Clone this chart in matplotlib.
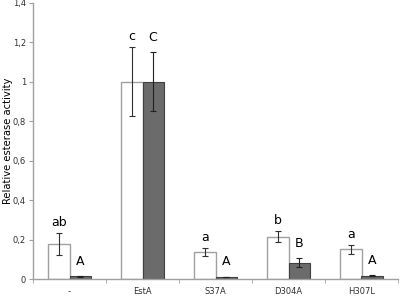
import numpy as np
import matplotlib
matplotlib.use("Agg")
import matplotlib.pyplot as plt

categories = ["-", "EstA", "S37A", "D304A", "H307L"]
white_vals = [0.178, 1.0, 0.135, 0.215, 0.151]
white_err = [0.055, 0.176, 0.02, 0.026, 0.023]
dark_vals = [0.013, 1.0, 0.01, 0.083, 0.017]
dark_err = [0.002, 0.15, 0.002, 0.021, 0.003]
white_letters = ["ab", "c", "a", "b", "a"]
dark_letters = ["A", "C", "A", "B", "A"]

fig = plt.figure(figsize=(4, 2.96), dpi=100)
ax = fig.add_axes([0.0825, 0.0574, 0.9125, 0.933])

x = np.arange(len(categories))
w = 0.29
ax.bar(x - w / 2, white_vals, w, color="white", edgecolor="#a0a0a0", linewidth=1.0,
       yerr=white_err, error_kw=dict(ecolor="#303030", elinewidth=0.8, capsize=2, capthick=0.8))
ax.bar(x + w / 2, dark_vals, w, color="#6b6b6b", edgecolor="#404040", linewidth=0.8,
       yerr=dark_err, error_kw=dict(ecolor="#202020", elinewidth=0.8, capsize=2, capthick=0.8))

for i in range(len(categories)):
    ax.annotate(white_letters[i], (x[i] - w / 2, white_vals[i] + white_err[i]),
                xytext=(0, 3), textcoords="offset points", ha="center", va="bottom",
                fontsize=9, color="black")
    ax.annotate(dark_letters[i], (x[i] + w / 2, dark_vals[i] + dark_err[i]),
                xytext=(0, 6), textcoords="offset points", ha="center", va="bottom",
                fontsize=9, color="black")

ax.set_xlim(-0.5, len(categories) - 0.5)
ax.set_ylim(0, 1.4)
yt = np.arange(0, 1.41, 0.2)
ax.set_yticks(yt)
ax.set_yticklabels(["0", "0,2", "0,4", "0,6", "0,8", "1", "1,2", "1,4"])
ax.set_xticks(x)
ax.set_xticklabels(categories)
ax.set_xticks(np.arange(-0.5, len(categories), 1.0), minor=True)
ax.tick_params(axis="x", which="major", length=0, labelsize=6, colors="#303030", pad=6)
ax.tick_params(axis="x", which="minor", length=3, color="#a0a0a0")
ax.tick_params(axis="y", length=3, color="#a0a0a0", labelsize=6, labelcolor="#303030", pad=2)

for s in ["top", "right"]:
    ax.spines[s].set_visible(False)
for s in ["left", "bottom"]:
    ax.spines[s].set_color("#a0a0a0")
    ax.spines[s].set_linewidth(1.0)

ax.set_ylabel("Relative esterase activity", fontsize=7.2)
ax.yaxis.set_label_coords(-0.055, 0.5)

fig.savefig("out.png", dpi=100)
